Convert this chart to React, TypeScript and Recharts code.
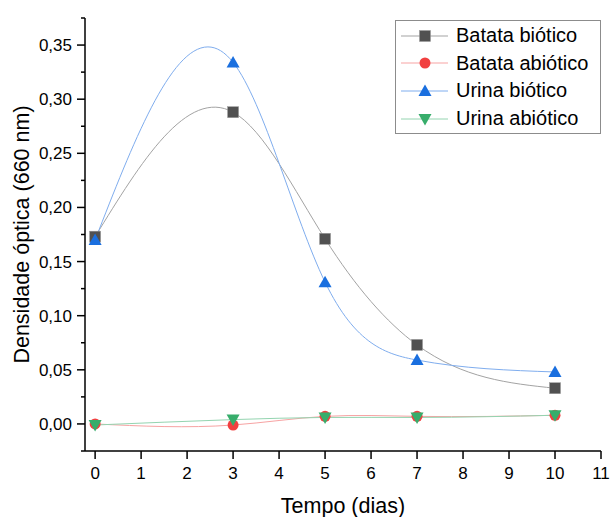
import React from 'react';
import { LineChart, Line, XAxis, YAxis, Label, Legend } from 'recharts';

const days = [0, 3, 5, 7, 10];
const batataBiotico = [0.173, 0.288, 0.171, 0.073, 0.033];
const batataAbiotico = [0.0, -0.001, 0.007, 0.007, 0.008];
const urinaBiotico = [0.17, 0.334, 0.131, 0.059, 0.048];
const urinaAbiotico = [-0.001, 0.004, 0.006, 0.006, 0.008];

const xTicks = [0, 1, 2, 3, 4, 5, 6, 7, 8, 9, 10, 11];
const yTicks = [-0.025, 0, 0.025, 0.05, 0.075, 0.1, 0.125, 0.15, 0.175, 0.2, 0.225, 0.25, 0.275, 0.3, 0.325, 0.35, 0.375];

const rows = days.map((d, i) => ({
  day: d,
  batataBio: batataBiotico[i],
  batataAbio: batataAbiotico[i],
  urinaBio: urinaBiotico[i],
  urinaAbio: urinaAbiotico[i],
}));

const FONT = '"Liberation Sans", Arial, sans-serif';

type Shape = 'square' | 'circle' | 'up' | 'down';

const series: { key: string; name: string; shape: Shape; fill: string; line: string }[] = [
  { key: 'batataBio', name: 'Batata biótico', shape: 'square', fill: '#515151', line: '#a3a3a3' },
  { key: 'batataAbio', name: 'Batata abiótico', shape: 'circle', fill: '#f14040', line: '#f7a3a3' },
  { key: 'urinaBio', name: 'Urina biótico', shape: 'up', fill: '#1a6fdf', line: '#7fadee' },
  { key: 'urinaAbio', name: 'Urina abiótico', shape: 'down', fill: '#37ad6b', line: '#94d4b0' },
];

// natural cubic spline in x (like Origin's "Spline" connection), not parametric
function xSpline(context: any) {
  let xs: number[] = [];
  let ys: number[] = [];
  return {
    areaStart() {},
    areaEnd() {},
    lineStart() {
      xs = [];
      ys = [];
    },
    point(x: number, y: number) {
      xs.push(+x);
      ys.push(+y);
    },
    lineEnd() {
      const n = xs.length;
      if (n === 0) return;
      context.moveTo(xs[0], ys[0]);
      if (n === 1) return;
      if (n === 2) {
        context.lineTo(xs[1], ys[1]);
        return;
      }
      const h: number[] = [];
      for (let i = 0; i < n - 1; i++) h.push(xs[i + 1] - xs[i]);
      const M = new Array(n).fill(0);
      const a: number[] = [], b: number[] = [], c: number[] = [], d: number[] = [];
      for (let i = 1; i < n - 1; i++) {
        a.push(h[i - 1]);
        b.push(2 * (h[i - 1] + h[i]));
        c.push(h[i]);
        d.push(6 * ((ys[i + 1] - ys[i]) / h[i] - (ys[i] - ys[i - 1]) / h[i - 1]));
      }
      const m = b.length;
      for (let i = 1; i < m; i++) {
        const w = a[i] / b[i - 1];
        b[i] -= w * c[i - 1];
        d[i] -= w * d[i - 1];
      }
      const sol = new Array(m).fill(0);
      sol[m - 1] = d[m - 1] / b[m - 1];
      for (let i = m - 2; i >= 0; i--) sol[i] = (d[i] - c[i] * sol[i + 1]) / b[i];
      for (let i = 0; i < m; i++) M[i + 1] = sol[i];
      const slope = (i: number) =>
        i < n - 1
          ? (ys[i + 1] - ys[i]) / h[i] - (h[i] * (2 * M[i] + M[i + 1])) / 6
          : (ys[i] - ys[i - 1]) / h[i - 1] + (h[i - 1] * (M[i - 1] + 2 * M[i])) / 6;
      for (let i = 0; i < n - 1; i++) {
        const s0 = slope(i);
        const s1 = slope(i + 1);
        const t = h[i] / 3;
        context.bezierCurveTo(xs[i] + t, ys[i] + s0 * t, xs[i + 1] - t, ys[i + 1] - s1 * t, xs[i + 1], ys[i + 1]);
      }
    },
  };
}

function marker(shape: Shape, cx: number, cy: number, fill: string, key?: string) {
  if (shape === 'square') {
    return <rect key={key} x={cx - 5.5} y={cy - 5.5} width={11} height={11} fill={fill} stroke="#9a9a9a" strokeWidth={0.5} />;
  }
  if (shape === 'circle') {
    return <circle key={key} cx={cx} cy={cy} r={5.5} fill={fill} />;
  }
  if (shape === 'up') {
    return <polygon key={key} points={`${cx},${cy - 6.5} ${cx + 6.5},${cy + 5} ${cx - 6.5},${cy + 5}`} fill={fill} />;
  }
  return <polygon key={key} points={`${cx},${cy + 6.5} ${cx + 6.5},${cy - 5} ${cx - 6.5},${cy - 5}`} fill={fill} />;
}

const AXIS_X_GAP = 13;

const YTick = (props: any) => {
  const { x, y, payload } = props;
  const v = payload.value as number;
  const major = Math.abs(v / 0.05 - Math.round(v / 0.05)) < 1e-6 && v >= 0 && v <= 0.35 + 1e-9;
  const ax = x + AXIS_X_GAP;
  return (
    <g>
      <line x1={ax - (major ? 8 : 4)} x2={ax} y1={y} y2={y} stroke="#000" strokeWidth={1.5} />
      {major && (
        <text x={x} y={y} dy="0.355em" textAnchor="end" fontSize={17} fontFamily={FONT} fill="#000">
          {v.toFixed(2).replace('.', ',')}
        </text>
      )}
    </g>
  );
};

const LegendBox = () => (
  <div
    style={{
      width: 204,
      height: 111,
      border: '1px solid #8c8c8c',
      background: '#fff',
      paddingTop: 1,
      boxSizing: 'content-box',
      fontFamily: FONT,
    }}
  >
    {series.map((s) => (
      <div key={s.key} style={{ display: 'flex', alignItems: 'center', height: 27.6 }}>
        <svg width={58} height={20} style={{ flex: 'none' }}>
          <line x1={5} x2={52} y1={10} y2={10} stroke={s.line} strokeWidth={1} />
          {marker(s.shape, 29, 10, s.fill)}
        </svg>
        <span style={{ fontSize: 20, color: '#000', marginLeft: 2, whiteSpace: 'nowrap' }}>{s.name}</span>
      </div>
    ))}
  </div>
);

export default function App() {
  return (
    <div style={{ position: 'absolute', left: 0, top: 0, background: '#fff' }}>
      <LineChart width={610} height={517} data={rows} margin={{ top: 18, right: 9, bottom: 0, left: 0 }}>
        <XAxis
          type="number"
          dataKey="day"
          domain={[-0.22, 11]}
          ticks={xTicks}
          height={66}
          tickSize={8}
          tickMargin={8}
          interval={0}
          axisLine={{ stroke: '#000', strokeWidth: 1.5 }}
          tickLine={{ stroke: '#000', strokeWidth: 1.5 }}
          tick={{ fontSize: 17, fill: '#000', fontFamily: FONT }}
        >
          <Label
            value="Tempo (dias)"
            position="insideBottom"
            offset={4}
            style={{ fontSize: 21.5, fill: '#000', fontFamily: FONT }}
          />
        </XAxis>
        <YAxis
          type="number"
          domain={[-0.025, 0.375]}
          ticks={yTicks}
          width={85}
          interval={0}
          tickSize={8}
          tickMargin={5}
          tickLine={false}
          axisLine={{ stroke: '#000', strokeWidth: 1.5 }}
          tick={<YTick />}
        >
          <Label
            value="Densidade óptica (660 nm)"
            angle={-90}
            position="insideLeft"
            offset={21}
            style={{ fontSize: 21.5, fill: '#000', fontFamily: FONT, textAnchor: 'middle' }}
          />
        </YAxis>
        <Legend
          layout="vertical"
          align="center"
          verticalAlign="middle"
          content={<LegendBox />}
          wrapperStyle={{ left: 395, top: 20, width: 206 }}
        />
        {series.map((s) => (
          <Line
            key={s.key}
            dataKey={s.key}
            name={s.name}
            type={xSpline as any}
            stroke={s.line}
            strokeWidth={1}
            isAnimationActive={false}
            dot={(p: any) => marker(s.shape, p.cx, p.cy, s.fill, `${s.key}-${p.index}`)}
            activeDot={false}
          />
        ))}
      </LineChart>
    </div>
  );
}
